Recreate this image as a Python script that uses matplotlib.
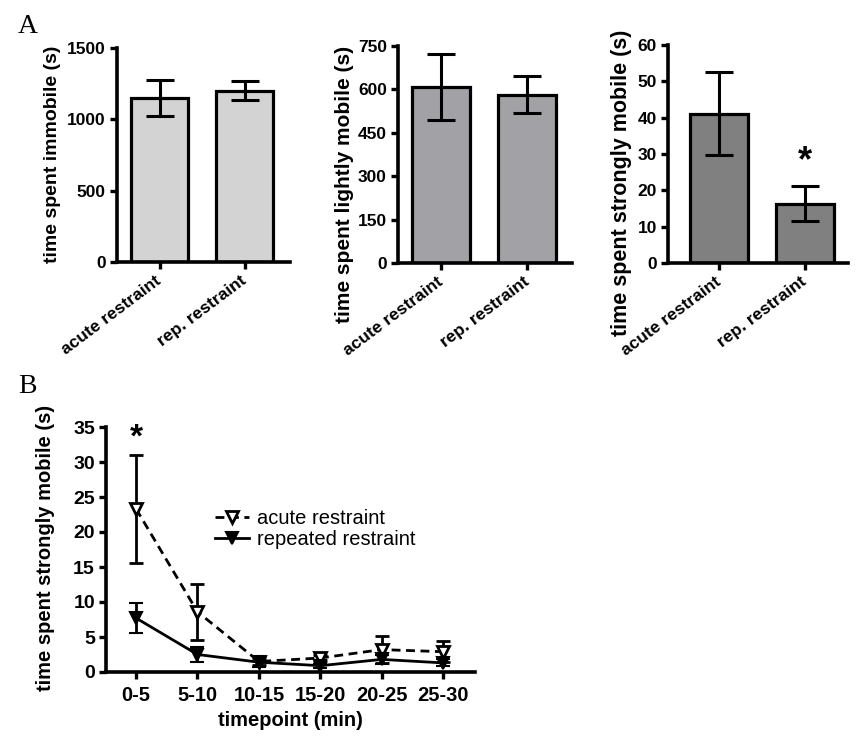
import matplotlib
matplotlib.use("Agg")
import matplotlib.pyplot as plt
from matplotlib.lines import Line2D
import numpy as np

plt.rcParams['font.family'] = ['Liberation Sans', 'DejaVu Sans']

# ---------------- data ----------------
groups = ["acute restraint", "rep. restraint"]
immobile_mean = [1150, 1200]
immobile_sem = [125, 67]
light_mean = [608, 582]
light_sem = [115, 64]
strong_mean = [41.1, 16.3]
strong_sem = [11.4, 4.8]

timepoints = ["0-5", "5-10", "10-15", "15-20", "20-25", "25-30"]
acute_mean = [23.3, 8.6, 1.5, 2.0, 3.2, 2.9]
acute_sem = [7.7, 4.0, 0.5, 0.4, 1.9, 1.5]
rep_mean = [7.7, 2.5, 1.4, 0.9, 1.8, 1.3]
rep_sem = [2.1, 1.1, 0.7, 0.3, 0.7, 0.5]

series_labels = ["acute restraint", "repeated restraint"]

# ---------------- layout ----------------
W, H = 866, 740
fig = plt.figure(figsize=(W / 100, H / 100), dpi=100)


def rect(l, r, t, b):
    return [l / W, 1 - b / H, (r - l) / W, (b - t) / H]


def style(ax, tick_fs):
    for s in ("top", "right"):
        ax.spines[s].set_visible(False)
    for s in ("left", "bottom"):
        ax.spines[s].set_linewidth(2.6)
    ax.tick_params(direction="out", length=5, width=2.4, labelsize=tick_fs, pad=3)
    for lab in ax.get_yticklabels():
        lab.set_fontweight("bold")


def bar_panel(r, means, sems, color, yticks, ylabel, lab_x, lab_y, lab_fs, xl):
    ax = fig.add_axes(rect(*r))
    x = np.arange(len(groups))
    ax.bar(x, means, width=0.67, color=color, edgecolor="black", linewidth=2.3, zorder=2)
    ax.errorbar(x, means, yerr=sems, fmt="none", ecolor="black", elinewidth=2.2,
                capsize=10, capthick=2.2, zorder=3)
    ax.set_xlim(*xl)
    ax.set_ylim(0, yticks[-1])
    ax.set_yticks(yticks)
    ax.set_xticks(x)
    style(ax, 12.5)
    ax.set_xticklabels(groups, rotation=37, ha="right", va="center",
                       rotation_mode="anchor", fontsize=12.5, fontweight="bold")
    ax.tick_params(axis="x", pad=7)
    ax.set_ylabel(ylabel, fontsize=lab_fs, fontweight="bold")
    ax.yaxis.set_label_coords(lab_x, lab_y)
    return ax


ax1 = bar_panel((117, 290, 48, 262), immobile_mean, immobile_sem, "#d3d3d3",
                [0, 500, 1000, 1500], "time spent immobile (s)", -0.325, 0.505, 14,
                (-0.5, 1.53))
ax2 = bar_panel((398, 572, 46, 263), light_mean, light_sem, "#a2a2a6",
                [0, 150, 300, 450, 600, 750], "time spent lightly mobile (s)", -0.255, 0.36, 15,
                (-0.5, 1.52))
ax3 = bar_panel((668, 848, 45, 263), strong_mean, strong_sem, "#808080",
                [0, 10, 20, 30, 40, 50, 60], "time spent strongly mobile (s)", -0.2, 0.37, 15.5,
                (-0.59, 1.5))
ax3.annotate("*", xy=(1, strong_mean[1] + strong_sem[1]), xytext=(0, 11),
             textcoords="offset points", ha="center", va="baseline",
             fontsize=26, fontweight="bold")

# ---------------- panel B ----------------
axb = fig.add_axes(rect(106, 475, 427, 672))
xb = np.arange(len(timepoints))
acute_style = dict(color="black", linestyle=(0, (3.2, 2.0)), linewidth=2.0, marker="v",
                   markersize=9, markerfacecolor="white", markeredgecolor="black",
                   markeredgewidth=2.0)
rep_style = dict(color="black", linestyle="-", linewidth=2.0, marker="v",
                 markersize=9, markerfacecolor="black", markeredgecolor="black",
                 markeredgewidth=1.5)
axb.errorbar(xb, acute_mean, yerr=acute_sem, ecolor="black", elinewidth=2.0,
             capsize=5, capthick=2.0, zorder=3, **acute_style)
axb.errorbar(xb, rep_mean, yerr=rep_sem, ecolor="black", elinewidth=2.0,
             capsize=5, capthick=2.0, zorder=4, **rep_style)
axb.set_xlim(-0.49, 5.52)
axb.set_ylim(0, 35)
axb.set_yticks(np.arange(0, 36, 5))
axb.set_xticks(xb)
style(axb, 14)
axb.set_xticklabels(timepoints, fontsize=14.5, fontweight="bold")
axb.tick_params(axis="x", pad=5)
axb.set_ylabel("time spent strongly mobile (s)", fontsize=14.5, fontweight="bold")
axb.yaxis.set_label_coords(-0.138, 0.506)
axb.set_xlabel("timepoint (min)", fontsize=14.5, fontweight="bold", va="top")
axb.xaxis.set_label_coords(0.499, -0.16)
axb.annotate("*", xy=(0, acute_mean[0] + acute_sem[0]), xytext=(0, 6),
             textcoords="offset points", ha="center", va="baseline",
             fontsize=24, fontweight="bold")
handles = [Line2D([], [], **acute_style), Line2D([], [], **rep_style)]
axb.legend(handles, series_labels, loc="center left",
           bbox_to_anchor=(215 / W, 1 - 529 / H),
           bbox_transform=fig.transFigure, frameon=False, fontsize=14.5,
           handlelength=1.7, handletextpad=0.4, labelspacing=0.1,
           borderpad=0, borderaxespad=0, numpoints=1)

# panel letters
fig.text(18 / W, 1 - 33 / H, "A", fontsize=20, family=["Liberation Serif", "DejaVu Serif"],
         va="baseline", ha="left")
fig.text(18 / W, 1 - 393 / H, "B", fontsize=20, family=["Liberation Serif", "DejaVu Serif"],
         va="baseline", ha="left")

fig.savefig("out.png", dpi=100)
